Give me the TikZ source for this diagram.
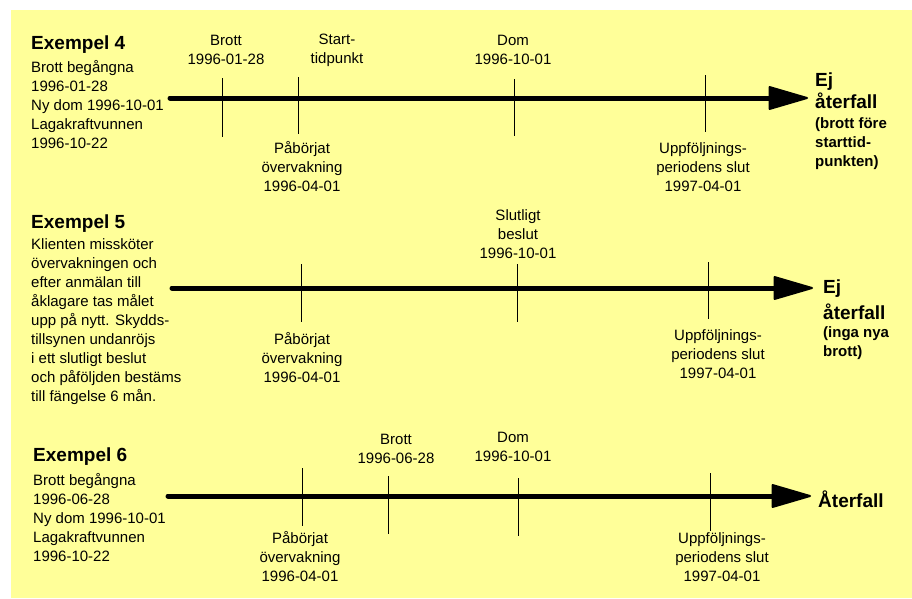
\documentclass[tikz,border=0pt]{standalone}
\usepackage{fontspec}
\setmainfont{Liberation Sans}
\usetikzlibrary{arrows.meta}
\definecolor{bgyellow}{HTML}{FFFF99}
\tikzset{
  body/.style={font=\fontsize{15}{19}\selectfont, inner sep=0pt, align=left},
  lbl/.style={font=\fontsize{15}{19}\selectfont, inner sep=0pt, align=center},
  title/.style={font=\bfseries\fontsize{19}{22}\selectfont, inner sep=0pt},
  res/.style={font=\bfseries\fontsize{19}{22}\selectfont, inner sep=0pt, align=left},
  note/.style={font=\bfseries\fontsize{15}{19}\selectfont, inner sep=0pt, align=left},
  timeline/.style={line width=5pt, line cap=round, -{Triangle[length=42pt,width=24pt,round,line width=2pt]}},
  tickline/.style={line width=1pt}
}
\begin{document}
\begin{tikzpicture}[x=1pt,y=-1pt]
\useasboundingbox (0,0) rectangle (912,598);
\fill[white] (0,0) rectangle (912,598);
\fill[bgyellow] (11,10) rectangle (912,598);

% ---------- Exempel 4 ----------
\node[title, anchor=west] (t4) at (31,45) {Exempel 4};
\node[body, anchor=west] (d4) at (31,105) {Brott begångna\\1996-01-28\\Ny dom 1996-10-01\\Lagakraftvunnen\\1996-10-22};
\coordinate (s4) at (170,98);
\coordinate (e4) at (808,98);
\draw[timeline] (s4) -- (e4);
\coordinate (k4a1) at (222,78);  \coordinate (k4a2) at (222,137);
\coordinate (k4b1) at (298,77);  \coordinate (k4b2) at (298,134);
\coordinate (k4c1) at (514,79);  \coordinate (k4c2) at (514,136);
\coordinate (k4d1) at (705,75);  \coordinate (k4d2) at (705,132);
\draw[tickline] (k4a1) -- (k4a2);
\draw[tickline] (k4b1) -- (k4b2);
\draw[tickline] (k4c1) -- (k4c2);
\draw[tickline] (k4d1) -- (k4d2);
\node[lbl] (l4a) at (226,50) {Brott\\1996-01-28};
\node[lbl] (l4b) at (337,50) {Start-\\tidpunkt};
\node[lbl] (l4c) at (302,167) {Påbörjat\\övervakning\\1996-04-01};
\node[lbl] (l4d) at (513,50) {Dom\\1996-10-01};
\node[lbl] (l4e) at (703,167) {Uppföljnings-\\periodens slut\\1997-04-01};
\node[res, anchor=west] (r4) at (815,91) {Ej\\återfall};
\node[note, anchor=west] (n4) at (815,144) {(brott före\\starttid-\\punkten)};

% ---------- Exempel 5 ----------
\node[title, anchor=west] (t5) at (31,224) {Exempel 5};
\node[body, anchor=west] (d5) at (31,322) {Klienten missköter\\övervakningen och\\efter anmälan till\\åklagare tas målet\\upp på nytt. Skydds-\\tillsynen undanröjs\\i ett slutligt beslut\\och påföljden bestäms\\till fängelse 6 mån.};
\coordinate (s5) at (172,288);
\coordinate (e5) at (813,288);
\draw[timeline] (s5) -- (e5);
\coordinate (k5a1) at (301,264);  \coordinate (k5a2) at (301,322);
\coordinate (k5b1) at (517,264);  \coordinate (k5b2) at (517,322);
\coordinate (k5c1) at (708,262);  \coordinate (k5c2) at (708,319);
\draw[tickline] (k5a1) -- (k5a2);
\draw[tickline] (k5b1) -- (k5b2);
\draw[tickline] (k5c1) -- (k5c2);
\node[lbl] (l5a) at (302,358) {Påbörjat\\övervakning\\1996-04-01};
\node[lbl] (l5b) at (518,234) {Slutligt\\beslut\\1996-10-01};
\node[lbl] (l5c) at (718,354) {Uppföljnings-\\periodens slut\\1997-04-01};
\node[res, anchor=west, font=\bfseries\fontsize{19}{26}\selectfont] (r5) at (823,300) {Ej\\återfall};
\node[note, anchor=west] (n5) at (823,343) {(inga nya\\brott)};

% ---------- Exempel 6 ----------
\node[title, anchor=west] (t6) at (33,457) {Exempel 6};
\node[body, anchor=west] (d6) at (33,517.5) {Brott begångna\\1996-06-28\\Ny dom 1996-10-01\\Lagakraftvunnen\\1996-10-22};
\coordinate (s6) at (168,496);
\coordinate (e6) at (811,496);
\draw[timeline] (s6) -- (e6);
\coordinate (k6a1) at (302,468);  \coordinate (k6a2) at (302,526);
\coordinate (k6b1) at (388,476);  \coordinate (k6b2) at (388,534);
\coordinate (k6c1) at (518,478);  \coordinate (k6c2) at (518,536);
\coordinate (k6d1) at (710,473);  \coordinate (k6d2) at (710,531);
\draw[tickline] (k6a1) -- (k6a2);
\draw[tickline] (k6b1) -- (k6b2);
\draw[tickline] (k6c1) -- (k6c2);
\draw[tickline] (k6d1) -- (k6d2);
\node[lbl] (l6a) at (300,557) {Påbörjat\\övervakning\\1996-04-01};
\node[lbl] (l6b) at (396,448.5) {Brott\\1996-06-28};
\node[lbl] (l6c) at (513,446.5) {Dom\\1996-10-01};
\node[lbl] (l6d) at (722,557) {Uppföljnings-\\periodens slut\\1997-04-01};
\node[res, anchor=west] (r6) at (818,499) {Återfall};
\end{tikzpicture}
\end{document}
